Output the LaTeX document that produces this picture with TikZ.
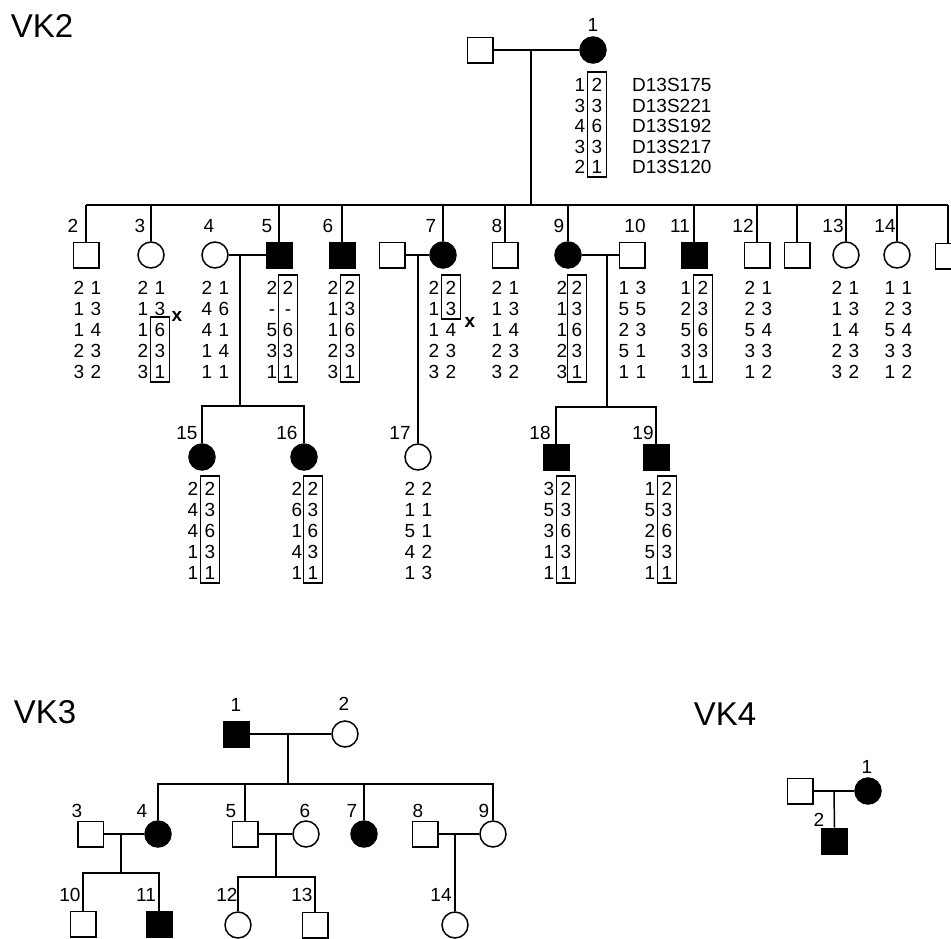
\documentclass[tikz,border=0pt]{standalone}
\usepackage{fontspec}
\setmainfont{Liberation Sans}
\newcommand\hap[6]{%
  \foreach \a/\b [count=\i] in {#6} {%
    \node[al] (#1l\i) at (#2, {#4+#5*(\i-1)}) {\a};
    \node[al] (#1r\i) at (#3, {#4+#5*(\i-1)}) {\b};
  }}
\newcommand\hapframe[3]{\draw[hapbox] ({#1-9.5},#2) rectangle ({#1+9.5},#3);}
\begin{document}
\begin{tikzpicture}[x=1pt,y=-1pt,
  ln/.style={line width=1.5pt},
  male/.style={draw, line width=1.5pt, rectangle, minimum size=25.5pt, inner sep=0pt},
  female/.style={draw, line width=1.5pt, circle, minimum size=26pt, inner sep=0pt},
  aff/.style={fill=black},
  al/.style={inner sep=0pt, text height=13.6pt, text depth=0pt, font=\fontsize{19}{22}\selectfont},
  lab/.style={al},
  ttl/.style={inner sep=0pt, font=\fontsize{33}{38}\selectfont},
  hapbox/.style={line width=1.2pt}
]
\useasboundingbox (0,0) rectangle (951,938);
\clip (0,0) rectangle (951,938);
\fill[white] (0,0) rectangle (951,938);

% ================= VK2 =================
\node[ttl] (t2) at (42,26) {VK2};

\node[male] (a1s) at (480,50) {};
\node[female,aff] (a1) at (593,50) {};
\node[lab] (la1) at (593,25) {1};
\draw[ln] (a1s) -- (a1);
\coordinate (m1) at (531,50);
\coordinate (sibL) at (86,205);
\coordinate (sibR) at (948,205);
\draw[ln] (m1) -- (m1 |- sibL);
\draw[ln] (sibL) -- (sibR);

\hap{h1}{580}{597}{85}{20.5}{1/2,3/3,4/6,3/3,2/1}
\hapframe{597}{72}{177}
\foreach \m [count=\i] in {D13S175,D13S221,D13S192,D13S217,D13S120}
  \node[al, anchor=west] (mk\i) at (632, {85+20.5*(\i-1)}) {\m};

% generation 2
\node[male] (b2) at (86,255) {};
\node[female] (b3) at (151,255) {};
\node[female] (b4) at (215,255) {};
\node[male,aff] (b5) at (279,255) {};
\node[male,aff] (b6) at (342,255) {};
\node[male] (b7s) at (392,255) {};
\node[female,aff] (b7) at (443,255) {};
\node[male] (b8) at (505,255) {};
\node[female,aff] (b9) at (568,255) {};
\node[male] (b10) at (632,255) {};
\node[male,aff] (b11) at (694,255) {};
\node[male] (b12) at (757,255) {};
\node[male] (bu) at (797,255) {};
\node[female] (b13) at (846,255) {};
\node[female] (b14) at (897,255) {};
\node[male] (bl) at (948,256) {};

\foreach \n in {b2,b3,b5,b6,b7,b8,b9,b11,b12,bu,b13,b14,bl}
  \draw[ln] (\n.north) -- (\n.north |- sibL);

\node[lab] (lb2) at (73,226) {2};
\node[lab] (lb3) at (140,226) {3};
\node[lab] (lb4) at (209,226) {4};
\node[lab] (lb5) at (267,226) {5};
\node[lab] (lb6) at (328,226) {6};
\node[lab] (lb7) at (431,226) {7};
\node[lab] (lb8) at (497,226) {8};
\node[lab] (lb9) at (559,226) {9};
\node[lab] (lb10) at (635,226) {10};
\node[lab] (lb11) at (680,226) {11};
\node[lab] (lb12) at (743,226) {12};
\node[lab] (lb13) at (833,226) {13};
\node[lab] (lb14) at (885,226) {14};

% marriages in generation 2
\draw[ln] (b4) -- (b5);
\coordinate (m45) at (240,255);
\coordinate (s45) at (240,406);
\draw[ln] (m45) -- (s45);
\draw[ln] (b7s) -- (b7);
\coordinate (m7) at (418,255);
\draw[ln] (b9) -- (b10);
\coordinate (m910) at (607,255);
\coordinate (s910) at (607,407);
\draw[ln] (m910) -- (s910);

% haplotypes generation 2
\hap{h2}{79}{96}{288}{21}{2/1,1/3,1/4,2/3,3/2}
\hap{h3}{143}{160}{288}{21}{2/1,1/3,1/6,2/3,3/1}
\hapframe{160}{317}{382}
\node[al] (x3) at (177,315) {\textbf{x}};
\hap{h4}{207}{224}{288}{21}{2/1,4/6,4/1,1/4,1/1}
\hap{h5}{272}{288}{288}{21}{2/2,-/-,5/6,3/3,1/1}
\hapframe{288}{275}{382}
\hap{h6}{333}{350}{288}{21}{2/2,1/3,1/6,2/3,3/1}
\hapframe{350}{275}{382}
\hap{h7}{434}{451}{288}{21}{2/2,1/3,1/4,2/3,3/2}
\hapframe{451}{275}{319}
\node[al] (x7) at (470,321) {\textbf{x}};
\hap{h8}{497}{514}{288}{21}{2/1,1/3,1/4,2/3,3/2}
\hap{h9}{562}{577}{288}{21}{2/2,1/3,1/6,2/3,3/1}
\hapframe{577}{275}{382}
\hap{h10}{624}{641}{288}{21}{1/3,5/5,2/3,5/1,1/1}
\hap{h11}{686}{703}{288}{21}{1/2,2/3,5/6,3/3,1/1}
\hapframe{703}{275}{382}
\hap{h12}{750}{767}{288}{21}{2/1,2/3,5/4,3/3,1/2}
\hap{h13}{837}{854}{288}{21}{2/1,1/3,1/4,2/3,3/2}
\hap{h14}{890}{907}{288}{21}{1/1,2/3,5/4,3/3,1/2}

% generation 3
\node[female,aff] (c15) at (202,457) {};
\node[female,aff] (c16) at (304,457) {};
\node[female] (c17) at (418,457) {};
\node[male,aff] (c18) at (556,457) {};
\node[male,aff] (c19) at (656,457) {};
\draw[ln] (c15.north) |- (s45) -| (c16.north);
\draw[ln] (m7) -- (c17.north);
\draw[ln] (c18.north) |- (s910) -| (c19.north);

\node[lab] (lc15) at (187,433) {15};
\node[lab] (lc16) at (287,433) {16};
\node[lab] (lc17) at (400,433) {17};
\node[lab] (lc18) at (540,433) {18};
\node[lab] (lc19) at (643,433) {19};

\hap{h15}{193}{210}{489}{21}{2/2,4/3,4/6,1/3,1/1}
\hapframe{210}{476}{583}
\hap{h16}{297}{313}{489}{21}{2/2,6/3,1/6,4/3,1/1}
\hapframe{313}{476}{583}
\hap{h17}{410}{427}{489}{21}{2/2,1/1,5/1,4/2,1/3}
\hap{h18}{549}{566}{489}{21}{3/2,5/3,3/6,1/3,1/1}
\hapframe{566}{476}{583}
\hap{h19}{650}{667}{489}{21}{1/2,5/3,2/6,5/3,1/1}
\hapframe{667}{476}{583}

% ================= VK3 =================
\node[ttl] (t3) at (45,712) {VK3};
\node[male,aff] (d1) at (236,734) {};
\node[female] (d2) at (345,734) {};
\node[lab] (ld1) at (236,705) {1};
\node[lab] (ld2) at (344,704) {2};
\draw[ln] (d1) -- (d2);
\coordinate (dm) at (288,734);
\coordinate (ds) at (288,784);
\draw[ln] (dm) -- (ds);

\node[male] (d3) at (90.5,834) {};
\node[female,aff] (d4) at (158,834) {};
\node[male] (d5) at (245,834) {};
\node[female] (d6) at (306,834) {};
\node[female,aff] (d7) at (364,834) {};
\node[male] (d8) at (425,834) {};
\node[female] (d9) at (493,834) {};
\draw[ln] (d4.north) |- (ds) -| (d9.north);
\draw[ln] (d5.north) -- (d5.north |- ds);
\draw[ln] (d7.north) -- (d7.north |- ds);

\node[lab] (ld3) at (77,811) {3};
\node[lab] (ld4) at (142,811) {4};
\node[lab] (ld5) at (231,811) {5};
\node[lab] (ld6) at (305,811) {6};
\node[lab] (ld7) at (352,811) {7};
\node[lab] (ld8) at (418,811) {8};
\node[lab] (ld9) at (484,811) {9};

\draw[ln] (d3) -- (d4);
\draw[ln] (d5) -- (d6);
\draw[ln] (d8) -- (d9);
\coordinate (dm34) at (121,834);
\coordinate (ds34) at (121,873);
\coordinate (dm56) at (276,834);
\coordinate (ds56) at (276,877);
\coordinate (dm89) at (455,834);
\draw[ln] (dm34) -- (ds34);
\draw[ln] (dm56) -- (ds56);

\node[male] (d10) at (83,924) {};
\node[male,aff] (d11) at (159,924) {};
\node[female] (d12) at (238,925) {};
\node[male] (d13) at (315,925) {};
\node[female] (d14) at (455,925) {};
\draw[ln] (d10.north) |- (ds34) -| (d11.north);
\draw[ln] (d12.north) |- (ds56) -| (d13.north);
\draw[ln] (dm89) -- (d14.north);

\node[lab] (ld10) at (70,895) {10};
\node[lab] (ld11) at (146,895) {11};
\node[lab] (ld12) at (227,895) {12};
\node[lab] (ld13) at (302,895) {13};
\node[lab] (ld14) at (441,895) {14};

% ================= VK4 =================
\node[ttl] (t4) at (725,714) {VK4};
\node[male] (e0) at (800,791) {};
\node[female,aff] (e1) at (868,791) {};
\node[lab] (le1) at (867,767) {1};
\draw[ln] (e0) -- (e1);
\coordinate (em) at (834,791);
\node[male,aff] (e2) at (834.5,841) {};
\node[lab] (le2) at (819,820) {2};
\draw[ln] (em) -- (e2.north);
\end{tikzpicture}
\end{document}
